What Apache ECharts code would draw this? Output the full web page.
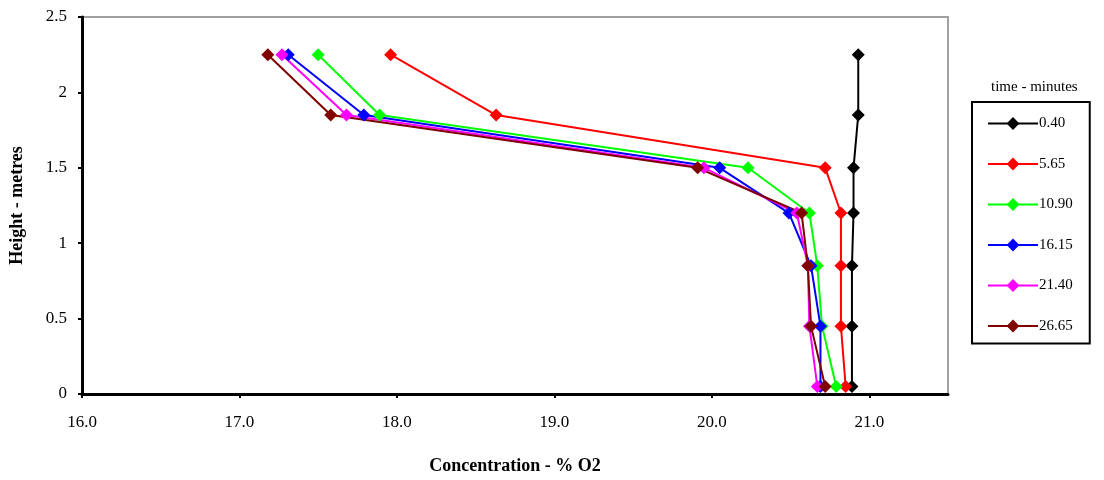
<!DOCTYPE html>
<html>
<head>
<meta charset="utf-8">
<script src="https://cdn.jsdelivr.net/npm/echarts@6/dist/echarts.min.js"></script>
<style>
  html, body { margin: 0; padding: 0; background: #fff; }
  #chart { width: 1104px; height: 480px; }
</style>
</head>
<body>
<div id="chart"></div>
<script>
// heights (m) where O2 was sampled
var heights = [0.05, 0.45, 0.85, 1.2, 1.5, 1.85, 2.25];
var times = ['0.40', '5.65', '10.90', '16.15', '21.40', '26.65'];
var colors = ['#000000', '#ff0000', '#00ff00', '#0000ff', '#ff00ff', '#800000'];

// % O2 at each height, one array per time
var o2_040 = [20.89, 20.89, 20.89, 20.90, 20.90, 20.93, 20.93];
var o2_565 = [20.85, 20.82, 20.82, 20.82, 20.72, 18.63, 17.96];
var o2_1090 = [20.79, 20.70, 20.67, 20.62, 20.23, 17.89, 17.50];
var o2_1615 = [20.69, 20.69, 20.63, 20.49, 20.05, 17.79, 17.31];
var o2_2140 = [20.67, 20.62, 20.61, 20.54, 19.95, 17.68, 17.27];
var o2_2665 = [20.72, 20.63, 20.61, 20.57, 19.91, 17.58, 17.18];

var allO2 = [o2_040, o2_565, o2_1090, o2_1615, o2_2140, o2_2665];

var font = '"Liberation Serif", "Times New Roman", serif';

var myChart = echarts.init(document.getElementById('chart'));

var series = allO2.map(function (vals, i) {
  return {
    name: times[i],
    type: 'line',
    data: vals.map(function (v, j) { return [v, heights[j]]; }),
    symbol: 'diamond',
    symbolSize: 13,
    showAllSymbol: true,
    lineStyle: { color: colors[i], width: 2 },
    itemStyle: { color: colors[i] },
    emphasis: { disabled: true },
    animation: false
  };
});

var option = {
  backgroundColor: '#fff',
  textStyle: { fontFamily: font },
  grid: {
    left: 82, right: 156, top: 17, bottom: 84,
    show: true, borderColor: '#a0a0a0', borderWidth: 2
  },
  xAxis: {
    type: 'value',
    min: 16, max: 21.5, interval: 1,
    name: 'Concentration - % O2',
    nameLocation: 'middle',
    nameGap: 63,
    nameTextStyle: { fontFamily: font, fontWeight: 'bold', fontSize: 18, color: '#000' },
    axisLine: { lineStyle: { color: '#000', width: 3 } },
    axisTick: { show: true, length: 4, lineStyle: { color: '#000', width: 2 } },
    axisLabel: {
      color: '#000', fontSize: 17, fontFamily: font, margin: 20,
      showMaxLabel: false,
      formatter: function (v) { return v.toFixed(1); }
    },
    splitLine: { show: false }
  },
  yAxis: {
    type: 'value',
    min: 0, max: 2.5, interval: 0.5,
    name: 'Height - metres',
    nameLocation: 'middle',
    nameGap: 56,
    nameRotate: 90,
    nameTextStyle: { fontFamily: font, fontWeight: 'bold', fontSize: 18, color: '#000' },
    axisLine: { show: true, lineStyle: { color: '#000', width: 3 } },
    axisTick: { show: true, length: 4, lineStyle: { color: '#000', width: 2 } },
    axisLabel: { color: '#000', fontSize: 17, fontFamily: font, margin: 15 },
    splitLine: { show: false }
  },
  legend: {
    data: times,
    orient: 'vertical',
    left: 972,
    top: 102,
    padding: [14, 17, 10, 15],
    itemWidth: 50,
    itemHeight: 16,
    itemGap: 25.5,
    borderColor: '#000',
    borderWidth: 2,
    textStyle: { fontFamily: font, fontSize: 15, color: '#000', padding: [0, 0, 0, -4] }
  },
  graphic: [{
    type: 'text',
    left: 991,
    top: 80,
    style: { text: 'time - minutes', font: '15px ' + font, fill: '#000' }
  }],
  series: series
};

myChart.setOption(option);
</script>
</body>
</html>
